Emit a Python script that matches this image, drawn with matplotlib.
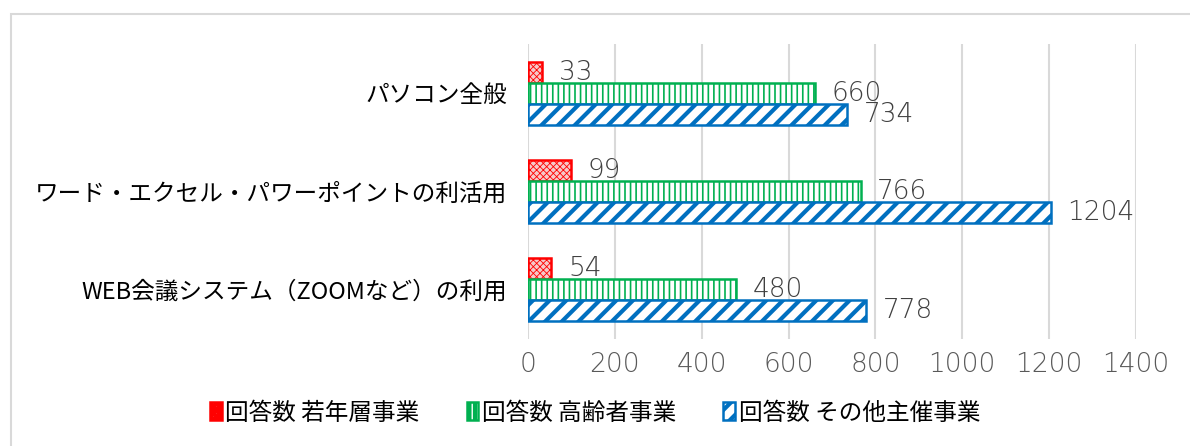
import matplotlib
matplotlib.use('Agg')
import numpy as np
import matplotlib.pyplot as plt
from matplotlib.patches import Rectangle

plt.rcParams['font.family'] = ['Noto Sans CJK JP', 'DejaVu Sans']

# data
categories = ['パソコン全般', 'ワード・エクセル・パワーポイントの利活用', 'WEB会議システム（ZOOMなど）の利用']
series = ['回答数 若年層事業', '回答数 高齢者事業', '回答数 その他主催事業']
young = [33, 99, 54]
elderly = [660, 766, 480]
other = [734, 1204, 778]
xticks = [0, 200, 400, 600, 800, 1000, 1200, 1400]

values = [young, elderly, other]
edge_colors = ['#FF0000', '#00B050', '#0070C0']
face_colors = ['#F6C9C9', 'white', 'white']
hatches = ['xxxxx', '|||', '//']
hatch_lw = [0.6, 1.2, 3.0]

num_font = dict(family='DejaVu Sans', weight=200)

fig = plt.figure(figsize=(11.9, 4.46), dpi=100)
ax = fig.add_axes([528/1190, 1 - 339/446, (1136 - 528)/1190, 295/446])

# outer chart border (grey frame)
fig.patches.append(Rectangle((11/1190, -0.1), 1.2, 1 - 14/446 + 0.1, transform=fig.transFigure,
                             fill=False, edgecolor='#D9D9D9', linewidth=1.5, zorder=0))

y = np.arange(len(categories))
h = 0.214
offsets = [-h, 0, h]

handles = []
for i in range(3):
    plt.rcParams['hatch.linewidth'] = hatch_lw[i]
    bars = ax.barh(y + offsets[i], values[i], height=h, color=face_colors[i],
                   edgecolor=edge_colors[i], linewidth=1.8, hatch=hatches[i],
                   label=series[i], zorder=3)
    for b in bars:
        if hasattr(b, 'set_hatch_linewidth'):
            b.set_hatch_linewidth(hatch_lw[i])
    handles.append(bars)
    for yy, v in zip(y + offsets[i], values[i]):
        ax.annotate(str(v), (v, yy), xytext=(12, 0), textcoords='offset points',
                    va='center', ha='left', fontsize=19, color='#404040', zorder=4,
                    **num_font)

ax.set_xlim(0, 1400)
ax.set_ylim(2.5, -0.5)
ax.set_xticks(xticks)
ax.set_xticklabels([str(t) for t in xticks], fontsize=19, color='#595959', **num_font)
ax.set_yticks(y)
ax.set_yticklabels(categories, fontsize=17, color='#000000')
ax.tick_params(axis='x', length=0, pad=9)
ax.tick_params(axis='y', length=0, pad=15)
ax.grid(axis='x', color='#D9D9D9', linewidth=1.5, zorder=0)
for s in ax.spines.values():
    s.set_visible(False)

leg = fig.legend(handles=handles, labels=series, loc='center', bbox_to_anchor=(0.5, 1 - 413/446),
                 ncol=3, frameon=False, fontsize=17, handlelength=0.5, handleheight=0.8,
                 handletextpad=0.15, columnspacing=2.0)
for t in leg.get_texts():
    t.set_color('#000000')

fig.savefig('out.png', dpi=100)
